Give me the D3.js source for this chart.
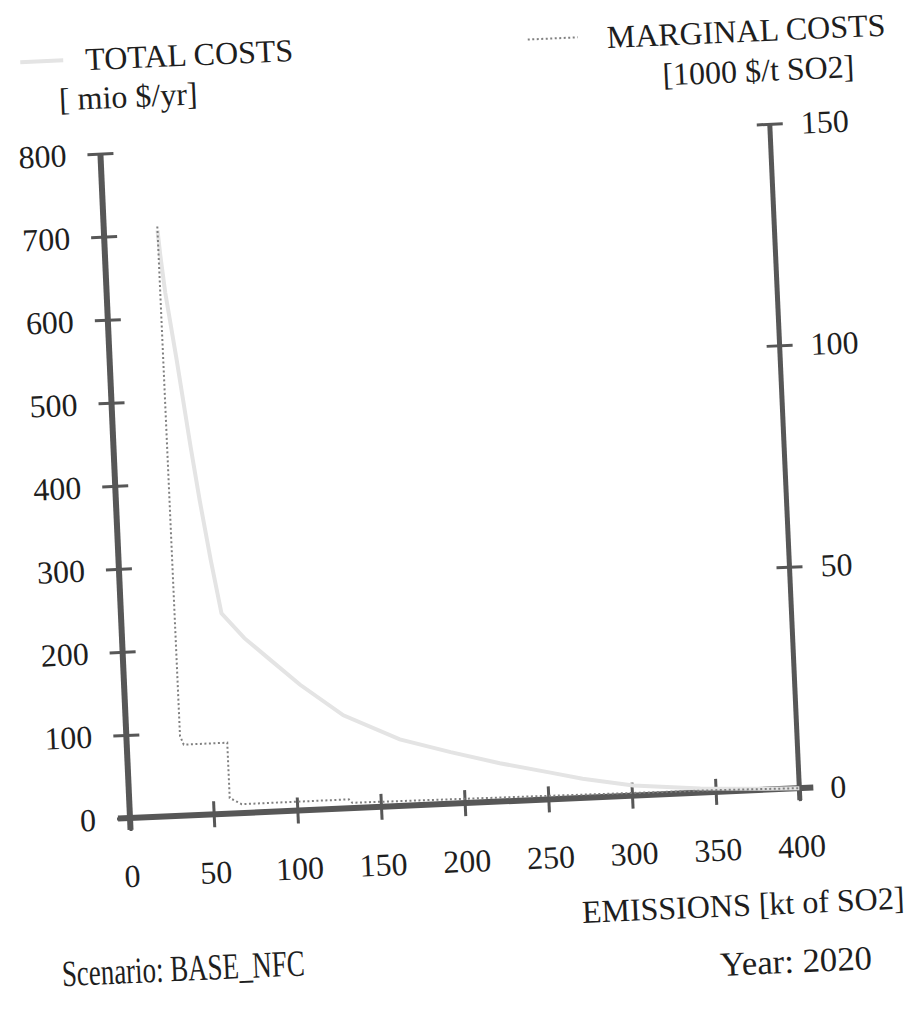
<!DOCTYPE html>
<html>
<head>
<meta charset="utf-8">
<script src="https://cdn.jsdelivr.net/npm/d3@7/dist/d3.min.js"></script>
<style>
  html, body { margin: 0; padding: 0; background: #fff; }
  svg { display: block; }
  text { font-family: "Liberation Serif", "Times New Roman", serif; fill: #1e1e1e; }
</style>
</head>
<body>
<svg id="chart" width="921" height="1011"></svg>
<script>
// ---- data ----
const xTicks = [0, 50, 100, 150, 200, 250, 300, 350, 400];
const leftTicks = [0, 100, 200, 300, 400, 500, 600, 700, 800];
const rightTicks = [0, 50, 100, 150];

// TOTAL COSTS [mio $/yr] vs emissions [kt SO2]
const totalEmissions = [32, 33, 35, 40, 46, 50, 55, 60, 73, 86, 105, 130, 163, 193, 222, 252, 271, 301, 341, 380, 400];
const totalCosts     = [705, 675, 629, 548, 443, 378, 306, 241, 210, 186, 151, 112, 80, 62, 46, 32, 23, 12, 5, 1, 0];

// MARGINAL COSTS [1000 $/t SO2] vs emissions
const marginalEmissions = [32, 32, 34, 60, 60, 67, 131, 133, 250, 350, 400];
const marginalCosts     = [133, 18, 16, 16, 3.5, 2, 2, 1.2, 0.8, 0.4, 0];

// ---- layout ----
const ox = 130, oy = 818, W = 670, H = 665;
const svg = d3.select("#chart");
const g = svg.append("g").attr("transform", `rotate(-2.55, ${ox}, ${oy})`);

const x = d3.scaleLinear().domain([0, 400]).range([ox, ox + W]);
const yL = d3.scaleLinear().domain([0, 800]).range([oy, oy - H]);
const yR = d3.scaleLinear().domain([0, 150]).range([oy, oy - H]);

const axisColor = "#575757";

function styleAxis(sel, horiz) {
  sel.select(".domain").attr("stroke", axisColor).attr("stroke-width", 6);
  sel.selectAll(".tick line").attr("stroke", axisColor).attr("stroke-width", 3);
  if (horiz) sel.selectAll(".tick line").attr("y1", -13).attr("y2", 13);
  else sel.selectAll(".tick line").attr("x1", -13).attr("x2", 13);
  sel.selectAll(".tick text").remove();
}

// x axis
const gx = g.append("g").attr("transform", `translate(0,${oy})`)
  .call(d3.axisBottom(x).tickValues(xTicks).tickSizeOuter(0));
styleAxis(gx, true);
gx.select(".domain").attr("d", `M${ox - 12},0H${ox + W + 14}`);

// left axis
const gl = g.append("g").attr("transform", `translate(${ox},0)`)
  .call(d3.axisLeft(yL).tickValues(leftTicks).tickSizeOuter(0));
styleAxis(gl, false);
gl.select(".domain").attr("d", `M0,${oy - H}V${oy + 12}`);

// right axis
const gr = g.append("g").attr("transform", `translate(${ox + W},0)`)
  .call(d3.axisRight(yR).tickValues(rightTicks).tickSizeOuter(0));
styleAxis(gr, false);
gr.select(".domain").attr("stroke-width", 5).attr("d", `M0,${oy - H}V${oy + 12}`);

// tick labels
g.append("g").selectAll("text").data(leftTicks).join("text")
  .attr("x", ox - 34).attr("y", d => yL(d)).attr("dy", "0.35em")
  .attr("text-anchor", "end").attr("font-size", 32).text(d => d);
g.append("g").selectAll("text").data(rightTicks).join("text")
  .attr("x", ox + W + 31).attr("y", d => yR(d)).attr("dy", "0.35em")
  .attr("text-anchor", "start").attr("font-size", 32).text(d => d);
g.append("g").selectAll("text").data(xTicks).join("text")
  .attr("x", d => x(d)).attr("y", oy + 69)
  .attr("text-anchor", "middle").attr("font-size", 32).text(d => d);

// lines
const totalData = totalEmissions.map((e, i) => [e, totalCosts[i]]);
const margData = marginalEmissions.map((e, i) => [e, marginalCosts[i]]);

g.append("path").datum(totalData)
  .attr("fill", "none").attr("stroke", "#e4e4e4").attr("stroke-width", 4)
  .attr("d", d3.line().x(d => x(d[0])).y(d => yL(d[1])));

g.append("path").datum(margData)
  .attr("fill", "none").attr("stroke", "#808080").attr("stroke-width", 2)
  .attr("stroke-dasharray", "2,2.5")
  .attr("d", d3.line().x(d => x(d[0])).y(d => yR(d[1])));

// legend & titles
g.append("line").attr("x1", 54).attr("x2", 97).attr("y1", 58).attr("y2", 58)
  .attr("stroke", "#e4e4e4").attr("stroke-width", 4);
g.append("line").attr("x1", 562).attr("x2", 612).attr("y1", 58).attr("y2", 58)
  .attr("stroke", "#808080").attr("stroke-width", 2).attr("stroke-dasharray", "2,2.5");

g.append("text").attr("x", 119).attr("y", 69).attr("font-size", 32).text("TOTAL COSTS");
g.append("text").attr("x", 91).attr("y", 108).attr("font-size", 32).text("[ mio $/yr]");
g.append("text").attr("x", 641).attr("y", 70).attr("font-size", 32).text("MARGINAL COSTS");
g.append("text").attr("x", 695).attr("y", 110).attr("font-size", 32).text("[1000 $/t SO2]");
g.append("text").attr("x", 900).attr("y", 943).attr("text-anchor", "end").attr("font-size", 32)
  .text("EMISSIONS [kt of SO2]");
g.append("text").attr("x", 865).attr("y", 1002).attr("text-anchor", "end").attr("font-size", 34)
  .attr("textLength", 152).attr("lengthAdjust", "spacingAndGlyphs").text("Year: 2020");
g.append("text").attr("x", 55).attr("y", 983).attr("font-size", 37)
  .attr("textLength", 243).attr("lengthAdjust", "spacingAndGlyphs").text("Scenario: BASE_NFC");
</script>
</body>
</html>
